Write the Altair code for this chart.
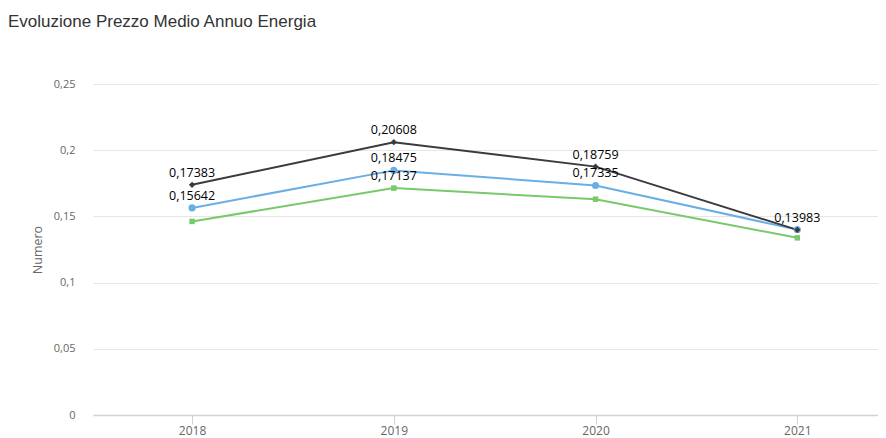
import altair as alt
import pandas as pd

anni = [2018, 2019, 2020, 2021]
serie = ["Serie blu", "Serie nera", "Serie verde"]
valori_blu = [0.15642, 0.18475, 0.17335, 0.1400]
valori_nera = [0.17383, 0.20608, 0.18759, 0.13983]
valori_verde = [0.1462, 0.17137, 0.1630, 0.1338]
etichetta_blu = [True, True, True, False]
etichetta_nera = [True, True, True, True]
etichetta_verde = [False, True, False, False]
colori = ["#6aaee6", "#3b3b3f", "#78c96a"]
forme = ["circle", "diamond", "square"]
dimensioni = [50, 30, 45]
y_ticks = [0, 0.05, 0.1, 0.15, 0.2, 0.25]

rows = []
for nome, vals, labs in zip(serie, [valori_blu, valori_nera, valori_verde],
                            [etichetta_blu, etichetta_nera, etichetta_verde]):
    for a, v, l in zip(anni, vals, labs):
        rows.append({"anno": a, "serie": nome, "valore": v, "mostra": l})
df = pd.DataFrame(rows)

W, H = 785, 331
LEFT, TOP = 85, 76

x = alt.X("anno:Q",
          scale=alt.Scale(domain=[2017.509, 2021.40], nice=False, zero=False),
          axis=alt.Axis(values=anni, format="d", title=None, grid=False,
                        labelFont="Liberation Sans Narrow, Open Sans", labelFontSize=12,
                        labelColor="#666666", labelPadding=1,
                        domainColor="#d8d0d0", domainWidth=1.5,
                        tickColor="#d8d0d0", tickSize=9))
y = alt.Y("valore:Q",
          scale=alt.Scale(domain=[0, 0.25], nice=False),
          axis=alt.Axis(values=y_ticks, title="Numero",
                        labelExpr="replace(toString(datum.value), '.', ',')",
                        labelFont="Open Sans", labelFontSize=11, labelColor="#666666",
                        labelPadding=18, ticks=False, domain=False,
                        gridColor="#e6e6e6", gridWidth=1,
                        titleFont="Open Sans", titleFontSize=12.5, titleColor="#666666",
                        titleFontWeight="normal", titlePadding=9))
color = alt.Color("serie:N", scale=alt.Scale(domain=serie, range=colori), legend=None)

base = alt.Chart(df)

linee = base.mark_line(strokeWidth=2).encode(x=x, y=y, color=color, detail="serie:N")
punti = base.mark_point(filled=True, opacity=1).encode(
    x=x, y=y, color=color,
    shape=alt.Shape("serie:N", scale=alt.Scale(domain=serie, range=forme), legend=None),
    size=alt.Size("serie:N", scale=alt.Scale(domain=serie, range=dimensioni), legend=None),
)
testi = base.transform_filter("datum.mostra").transform_calculate(
    testo="replace(format(datum.valore, '.5f'), '.', ',')"
).mark_text(font="Open Sans", fontSize=12.5, fontWeight="normal", color="#000000",
            baseline="bottom", dy=-5).encode(
    x=x, y=y, text="testo:N")

chart = alt.layer(linee, punti, testi).properties(
    width=W, height=H,
    autosize=alt.AutoSizeParams(type="none"),
    padding={"left": LEFT, "top": TOP, "right": 0, "bottom": 30},
    title=alt.TitleParams("Evoluzione Prezzo Medio Annuo Energia", anchor="start",
                          frame="group", dx=-LEFT, offset=47,
                          font="Liberation Sans", fontSize=17, fontWeight="normal",
                          color="#333333"),
).configure_view(stroke=None)

chart.save("out.html", embed_options={"renderer": "svg", "actions": False})
